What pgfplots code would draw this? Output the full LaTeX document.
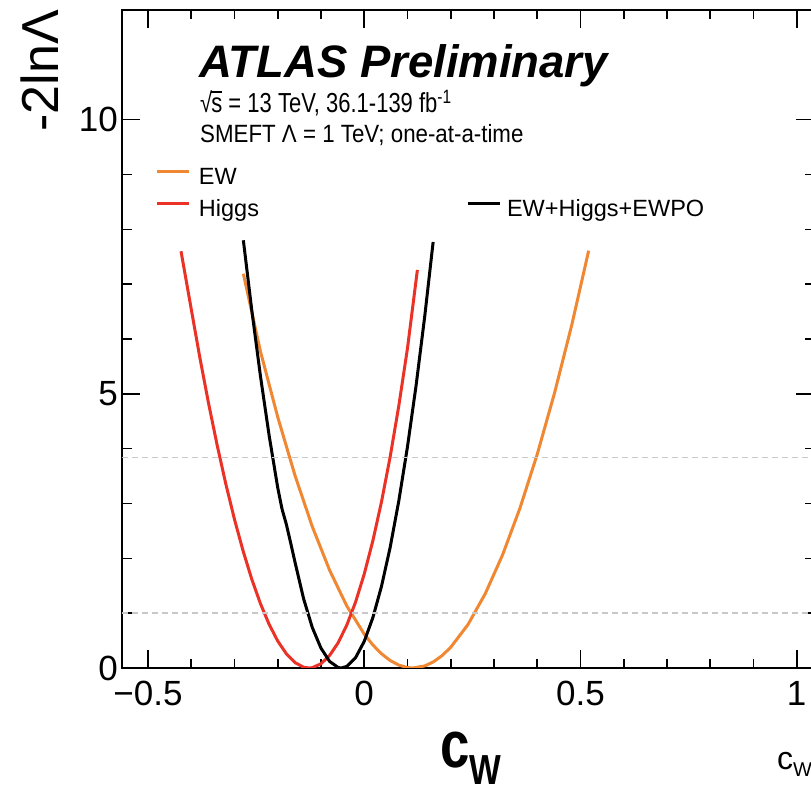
\documentclass[border=0pt]{standalone}
\usepackage{fontspec}
\setmainfont{Liberation Sans}
\usepackage{pgfplots}
\pgfplotsset{compat=1.18}
\definecolor{ewc}{RGB}{240,135,50}
\definecolor{hgc}{RGB}{235,50,38}
\definecolor{dashc}{RGB}{200,200,200}
\newcommand{\fs}[1]{\fontsize{#1}{#1}\selectfont}
\begin{document}
\begin{tikzpicture}
\path[use as bounding box] (-122pt,-129pt) rectangle (689pt,668pt);
\begin{axis}[
  at={(0pt,0pt)}, anchor=south west,
  scale only axis, width=692pt, height=658pt,
  xmin=-0.56, xmax=1.04, ymin=0, ymax=12,
  axis line style={line width=2pt},
  every tick/.style={black, line width=1.6pt},
  tick align=inside, xtick pos=both, ytick pos=both,
  xtick={-0.5,0,0.5,1}, xticklabels={−0.5,0,0.5,1},
  minor x tick num=4,
  ytick={0,5,10}, yticklabels={0,5,10},
  minor y tick num=4,
  major tick length=18pt, minor tick length=9.5pt,
  xticklabel style={font=\fs{35}, inner sep=0pt, anchor=north, yshift=-13pt},
  yticklabel style={font=\fs{35}, inner sep=0pt, anchor=east, xshift=-4pt},
  legend columns=2,
  legend cell align=left,
  legend image code/.code={\draw[#1, line width=3pt] (0pt,7pt) -- (32pt,7pt);},
  legend style={draw=none, fill=none, inner sep=0pt, outer sep=0pt,
    at={(axis description cs:0.0491,0.7599)}, anchor=north west,
    font=\fs{23.5},
    nodes={inner sep=0pt, text height=17pt, text depth=5pt},
    row sep=10pt,
    /tikz/column 1/.style={column sep=8pt},
    /tikz/column 2/.style={column sep=207pt},
    /tikz/column 3/.style={column sep=6pt}},
]
% EW
\addplot[ewc, line width=3pt] coordinates {
(-0.2794,7.19) (-0.24,5.777) (-0.20,4.579) (-0.16,3.511) (-0.12,2.578)
(-0.08,1.783) (-0.04,1.128) (0.00,0.619) (0.02,0.4206) (0.04,0.2595)
(0.06,0.1367) (0.08,0.0526) (0.10,0.0078) (0.1125,0) (0.14,0.0377)
(0.16,0.112) (0.18,0.2252) (0.20,0.377) (0.24,0.793) (0.28,1.357)
(0.32,2.064) (0.36,2.912) (0.40,3.896) (0.44,5.013) (0.48,6.259) (0.519,7.61)};
\addlegendentry{EW}
\addlegendimage{empty legend}
\addlegendentry{}
% Higgs
\addplot[hgc, line width=3pt] coordinates {
(-0.4235,7.60) (-0.40,6.549) (-0.38,5.661) (-0.36,4.832) (-0.34,4.064)
(-0.32,3.357) (-0.30,2.713) (-0.28,2.134) (-0.26,1.621) (-0.24,1.176)
(-0.22,0.799) (-0.20,0.493) (-0.18,0.259) (-0.16,0.0988) (-0.14,0.014)
(-0.128,0) (-0.12,0.0062) (-0.10,0.0765) (-0.08,0.2278) (-0.06,0.4634)
(-0.04,0.787) (-0.02,1.2015) (0.00,1.711) (0.02,2.320) (0.04,3.031)
(0.06,3.850) (0.08,4.781) (0.10,5.827) (0.123,7.26)};
\addlegendentry{Higgs}
% EW+Higgs+EWPO
\addplot[black, line width=3pt] coordinates {
(-0.2794,7.80) (-0.26,6.53) (-0.24,5.33) (-0.22,4.25) (-0.20,3.29)
(-0.19,2.90) (-0.18,2.62) (-0.17,2.28) (-0.16,1.93) (-0.14,1.26)
(-0.12,0.738) (-0.10,0.363) (-0.08,0.120) (-0.06,0.008) (-0.053,0)
(-0.04,0.029) (-0.02,0.188) (0.00,0.484) (0.02,0.918) (0.04,1.490)
(0.06,2.199) (0.08,3.047) (0.10,4.032) (0.12,5.154) (0.14,6.415) (0.1594,7.77)};
\addlegendentry{EW+Higgs+EWPO}
% reference lines
\addplot[dashc, line width=1.5pt, dash pattern=on 6pt off 4pt, forget plot] coordinates {(-0.56,1) (1.04,1)};
\addplot[dashc, line width=1.5pt, dash pattern=on 6pt off 4pt, forget plot] coordinates {(-0.56,3.84) (1.04,3.84)};
\end{axis}
% texts
\node[anchor=base west, inner sep=0pt] at (77pt,590pt) {\fs{45.5}\bfseries\itshape ATLAS Preliminary};
\node[anchor=base west, inner sep=0pt, yscale=1.25] at (78pt,555pt) {\fs{22}√\kern-0.04em\rlap{\rule[0.74em]{0.5em}{0.06em}}s = 13 TeV, 36.1-139 fb\textsuperscript{-1}};
\node[anchor=base west, inner sep=0pt, yscale=1.12] at (78pt,525pt) {\fs{22.3}SMEFT Λ = 1 TeV; one-at-a-time};
\node[anchor=base east, inner sep=0pt, rotate=90] at (-63pt,658pt) {\fs{52}-2lnΛ};
\node[anchor=base west, inner sep=0pt, xscale=0.8] at (318pt,-100pt) {\fs{66}\bfseries c\raisebox{-16pt}{\fs{42}\bfseries W}};
\node[anchor=base west, inner sep=0pt] at (655pt,-102pt) {\fs{32}c\raisebox{-7pt}{\fs{20}W}};
\end{tikzpicture}
\end{document}
